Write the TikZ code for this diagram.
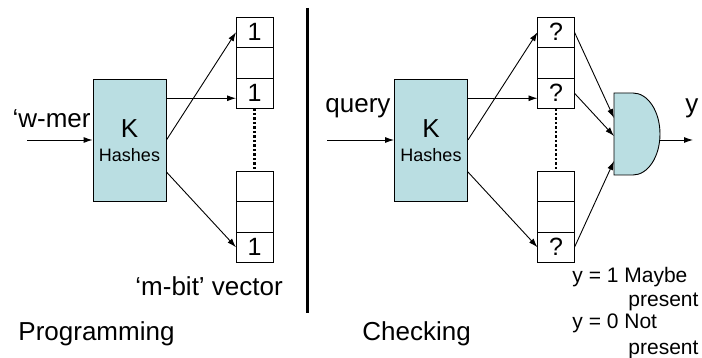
\documentclass[tikz,border=0pt]{standalone}
\usepackage{fontspec}
\setmainfont{Liberation Sans}
\usetikzlibrary{arrows.meta, positioning}
\definecolor{hashfill}{RGB}{186,222,226}

\begin{document}
\begin{tikzpicture}[x=1pt, y=-1pt, line width=0.9pt, >={Latex[length=9pt,width=6pt]},
	hashbox/.style={draw, fill=hashfill, minimum width=73pt, minimum height=122pt, inner sep=0pt},
	bitcell/.style={draw, minimum width=37pt, minimum height=30.5pt, inner sep=0pt, outer sep=0pt,
		font=\fontsize{25}{25}\selectfont},
	txt/.style={anchor=base west, inner sep=0pt, font=\fontsize{26}{30}\selectfont},
	note/.style={anchor=base west, inner sep=0pt, font=\fontsize{21}{24}\selectfont},
	bigk/.style={anchor=base, inner sep=0pt, font=\fontsize{26}{26}\selectfont},
	smallh/.style={anchor=base, inner sep=0pt, font=\fontsize{18}{18}\selectfont}]
	\useasboundingbox (0,0) rectangle (702,358);

	% programming
	\node[hashbox] (hashL) at (129.5,140) {};
	\node[bigk] (kL) at (129.5,138) {K};
	\node[smallh] (hsL) at (129.5,162) {Hashes};
	\node[bitcell] (cellL1) at (254.5,32.25) {1};
	\node[bitcell, below=0pt of cellL1] (cellL2) {};
	\node[bitcell, below=0pt of cellL2] (cellL3) {1};
	\node[bitcell] (cellL4) at (254.5,186.25) {};
	\node[bitcell, below=0pt of cellL4] (cellL5) {};
	\node[bitcell, below=0pt of cellL5] (cellL6) {1};
	\draw[line width=2.5pt, dash pattern=on 2.5pt off 2pt] (cellL3.south) -- (cellL4.north);
	\coordinate (inL) at (27,140);
	\draw[->] (inL) -- (hashL.west);
	\draw[->] (hashL.east) -- (cellL1.west);
	\draw[->] ([yshift=-5pt]hashL.east |- cellL3.west) -- ([yshift=-5pt]cellL3.west);
	\draw[->] ([yshift=-32pt]hashL.east) -- (cellL6.west);
	\node[txt, anchor=base east] (wmer) at (91,128) {‘w-mer};
	\node[txt] (mbit) at (135,296) {‘m-bit’ vector};
	\node[txt] (prog) at (18,341) {Programming};

	% divider
	\draw[line width=3pt] (307,8) -- (307,313);

	% checking
	\node[hashbox] (hashR) at (431,140) {};
	\node[bigk] (kR) at (431,138) {K};
	\node[smallh] (hsR) at (431,162) {Hashes};
	\node[bitcell] (cellR1) at (556,32.25) {?};
	\node[bitcell, below=0pt of cellR1] (cellR2) {};
	\node[bitcell, below=0pt of cellR2] (cellR3) {?};
	\node[bitcell] (cellR4) at (556,186.25) {};
	\node[bitcell, below=0pt of cellR4] (cellR5) {};
	\node[bitcell, below=0pt of cellR5] (cellR6) {?};
	\draw[line width=2.5pt, dash pattern=on 2.5pt off 2pt] (cellR3.south) -- (cellR4.north);
	\coordinate (inR) at (327,140);
	\draw[->] (inR) -- (hashR.west);
	\draw[->] (hashR.east) -- (cellR1.west);
	\draw[->] ([yshift=-5pt]hashR.east |- cellR3.west) -- ([yshift=-5pt]cellR3.west);
	\draw[->] ([yshift=-32pt]hashR.east) -- (cellR6.west);

	% and gate
	\draw[fill=hashfill] (614,93) -- (633,93) arc[start angle=90, end angle=-90, x radius=27pt, y radius=41pt]
		-- (614,175) -- cycle;
	\coordinate (gin1) at (614,118);
	\coordinate (gin2) at (614,136);
	\coordinate (gin3) at (614,161);
	\coordinate (gout) at (660,140);
	\coordinate (yend) at (693,140);
	\draw[->] (cellR1.east) -- (gin1);
	\draw[->] (cellR3.east) -- (gin2);
	\draw[->] (cellR6.east) -- (gin3);
	\draw[->] (gout) -- (yend);

	\node[txt] (query) at (325,113) {query};
	\node[txt] (yout) at (685,113) {y};
	\node[txt] (check) at (362,341) {Checking};
	\node[note] (ymaybe) at (572,283) {y = 1 Maybe};
	\node[note] (pres1) at (628,306) {present};
	\node[note] (ynot) at (572,329) {y = 0 Not};
	\node[note] (pres2) at (628,354) {present};
\end{tikzpicture}
\end{document}
